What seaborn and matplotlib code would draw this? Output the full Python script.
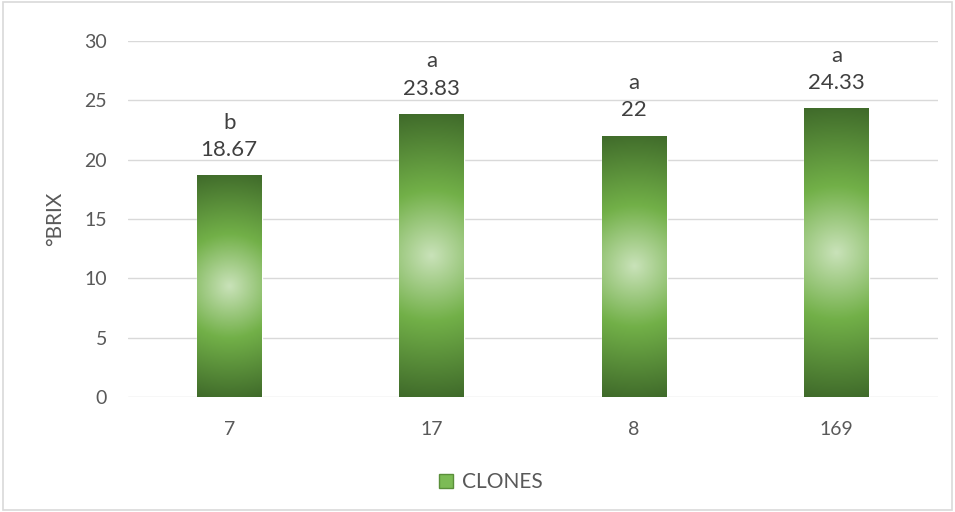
import numpy as np
import pandas as pd
import matplotlib
matplotlib.use("Agg")
import matplotlib.pyplot as plt
import seaborn as sns
from matplotlib.colors import LinearSegmentedColormap
from matplotlib.patches import Patch, Rectangle

clones = ["7", "17", "8", "169"]
brix = [18.67, 23.83, 22, 24.33]
letters = ["b", "a", "a", "a"]
y_ticks = [0, 5, 10, 15, 20, 25, 30]

sns.set_theme(style="white")
plt.rcParams['font.family'] = ['Lato', 'DejaVu Sans']

df = pd.DataFrame({"clone": clones, "brix": brix})

fig = plt.figure(figsize=(9.55, 5.12), dpi=100)
ax = fig.add_axes([0.134, 0.2246, 0.848, 0.6953])

sns.barplot(data=df, x="clone", y="brix", order=clones, color="#70ad47",
            width=0.32, ax=ax, zorder=2)

ax.set_ylim(0, 30)
ax.set_xlim(-0.5, len(clones) - 0.5)
ax.set_yticks(y_ticks)
ax.yaxis.grid(True, color="#d9d9d9", linewidth=1.0, zorder=0)
ax.set_axisbelow(True)
for s in ax.spines.values():
    s.set_visible(False)
ax.tick_params(axis="both", length=0, colors="#595959", labelsize=14)
ax.tick_params(axis="x", pad=17)
ax.tick_params(axis="y", pad=15)
ax.set_xlabel("")
ax.set_ylabel("°BRIX", color="#595959", fontsize=15, labelpad=14)

cmap = LinearSegmentedColormap.from_list(
    "grad", [(0.0, "#c9e2b9"), (0.45, "#72b048"), (1.0, "#3f6a2a")])

fig.canvas.draw()
for patch, v, let in zip(ax.patches, brix, letters):
    x0, w, h = patch.get_x(), patch.get_width(), patch.get_height()
    p0 = ax.transData.transform((x0, 0))
    p1 = ax.transData.transform((x0 + w, h))
    wp, hp = abs(p1[0] - p0[0]), abs(p1[1] - p0[1])
    nx, ny = max(int(wp), 2), max(int(hp), 2)
    xs = (np.arange(nx) + 0.5) - nx / 2
    ys = (np.arange(ny) + 0.5) - ny / 2
    X, Y = np.meshgrid(xs, ys)
    r = np.sqrt(X ** 2 + Y ** 2) / np.sqrt((nx / 2) ** 2 + (ny / 2) ** 2)
    patch.set_facecolor("none")
    im = ax.imshow(r, cmap=cmap, vmin=0, vmax=1, extent=(x0, x0 + w, 0, h),
                   aspect="auto", interpolation="bilinear", zorder=2)
    im.set_clip_path(patch)
    cx = x0 + w / 2
    ax.annotate(f"{v:g}", (cx, h), xytext=(0, 18.5), textcoords="offset points",
                ha="center", va="center", fontsize=16, color="#404040")
    ax.annotate(let, (cx, h), xytext=(0, 38), textcoords="offset points",
                ha="center", va="center", fontsize=16, color="#404040")

ax.set_xlim(-0.5, len(clones) - 0.5)
ax.set_ylim(0, 30)

handle = Patch(facecolor="#7cbb55", edgecolor="#5a8f3a", label="CLONES")
leg = fig.legend(handles=[handle], loc="center", bbox_to_anchor=(0.514, 0.058),
                 frameon=False, fontsize=15, handlelength=0.7, handleheight=0.7,
                 handletextpad=0.45)
for t in leg.get_texts():
    t.set_color("#595959")

fig.add_artist(Rectangle((0.003, 0.003), 0.994, 0.994, transform=fig.transFigure,
                         fill=False, edgecolor="#d9d9d9", linewidth=1.2))

fig.savefig("out.png", dpi=100)
